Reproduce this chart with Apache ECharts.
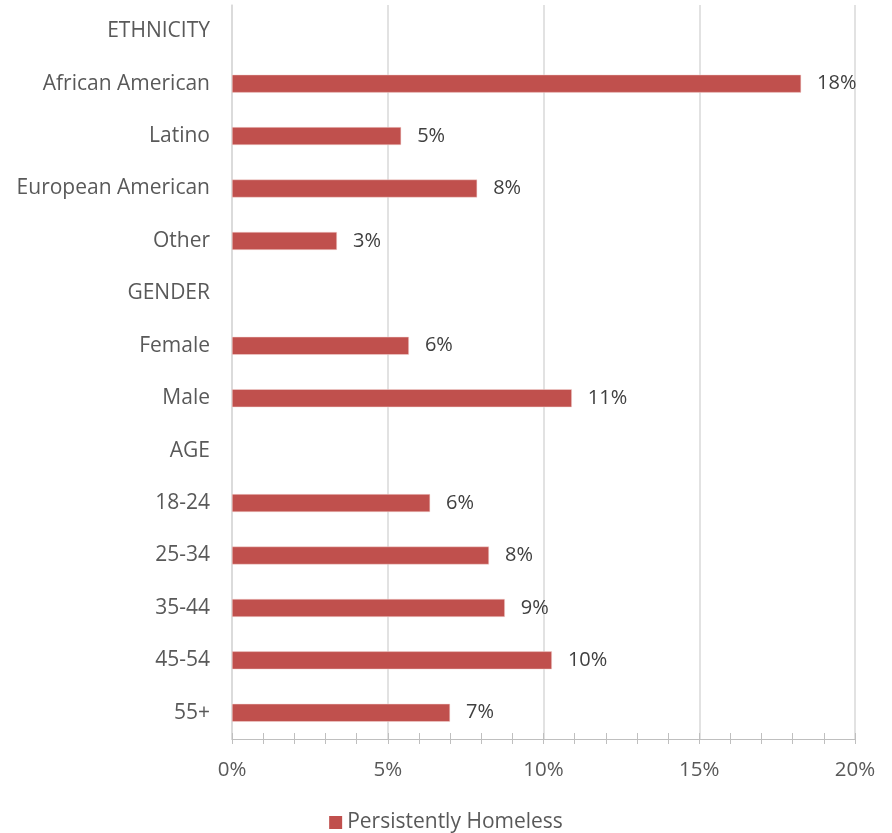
<!DOCTYPE html>
<html><head><meta charset="utf-8">
<script src="https://cdn.jsdelivr.net/npm/echarts@6/dist/echarts.min.js"></script>
<style>html,body{margin:0;padding:0;background:#fff}#c{width:892px;height:833px}</style>
</head><body><div id="c"></div>
<script>
const categories = ['ETHNICITY','African American','Latino','European American','Other','GENDER','Female','Male','AGE','18-24','25-34','35-44','45-54','55+'];
const values = [null, 18.27, 5.43, 7.87, 3.37, null, 5.68, 10.91, null, 6.36, 8.25, 8.76, 10.27, 7.0];
const seriesName = 'Persistently Homeless';
const xTicks = [0, 5, 10, 15, 20];

const font = '"Open Sans", "Noto Sans", sans-serif';
const chart = echarts.init(document.getElementById('c'));
chart.setOption({
  animation: false,
  grid: {left: 232, right: 37, top: 5, bottom: 94},
  legend: {
    bottom: 0, padding: 0, left: 'center', itemWidth: 13, itemHeight: 13, itemGap: 6,
    itemStyle: {borderWidth: 0},
    textStyle: {fontFamily: font, fontSize: 21, color: '#595959'},
    data: [{name: seriesName, icon: 'rect'}]
  },
  xAxis: [{
    type: 'value', min: xTicks[0], max: xTicks[xTicks.length-1], interval: 5,
    axisLine: {show: true, lineStyle: {color: '#bfbfbf', width: 1}},
    axisTick: {show: true, length: 5, inside: false, lineStyle: {color: '#bfbfbf'}},
    minorTick: {show: true, splitNumber: 5, length: 5, lineStyle: {color: '#bfbfbf'}},
    splitLine: {show: true, lineStyle: {color: '#d9d9d9', width: 1.5}},
    axisLabel: {formatter: v => v + '%', margin: 21, fontFamily: font, fontSize: 20.5, color: '#595959'}
  }, {
    type: 'value', min: 0, max: 20, interval: 1, position: 'bottom',
    axisLine: {show: false},
    axisTick: {show: true, inside: true, length: 6, lineStyle: {color: '#bfbfbf'}},
    splitLine: {show: false}, axisLabel: {show: false}
  }],
  yAxis: {
    type: 'category', inverse: true, data: categories,
    axisLine: {show: true, lineStyle: {color: '#d9d9d9', width: 1.5}},
    axisTick: {show: false},
    axisLabel: {margin: 22, fontFamily: font, fontSize: 21, color: '#595959'}
  },
  series: [{
    name: seriesName, type: 'bar', data: values, barWidth: 18,
    itemStyle: {color: '#C0504D', borderColor: '#f4d8d7', borderWidth: 0.5},
    label: {show: true, position: 'right', distance: 16, formatter: p => Math.round(p.value) + '%',
      fontFamily: font, fontSize: 20, color: '#404040'}
  }]
});
</script></body></html>
